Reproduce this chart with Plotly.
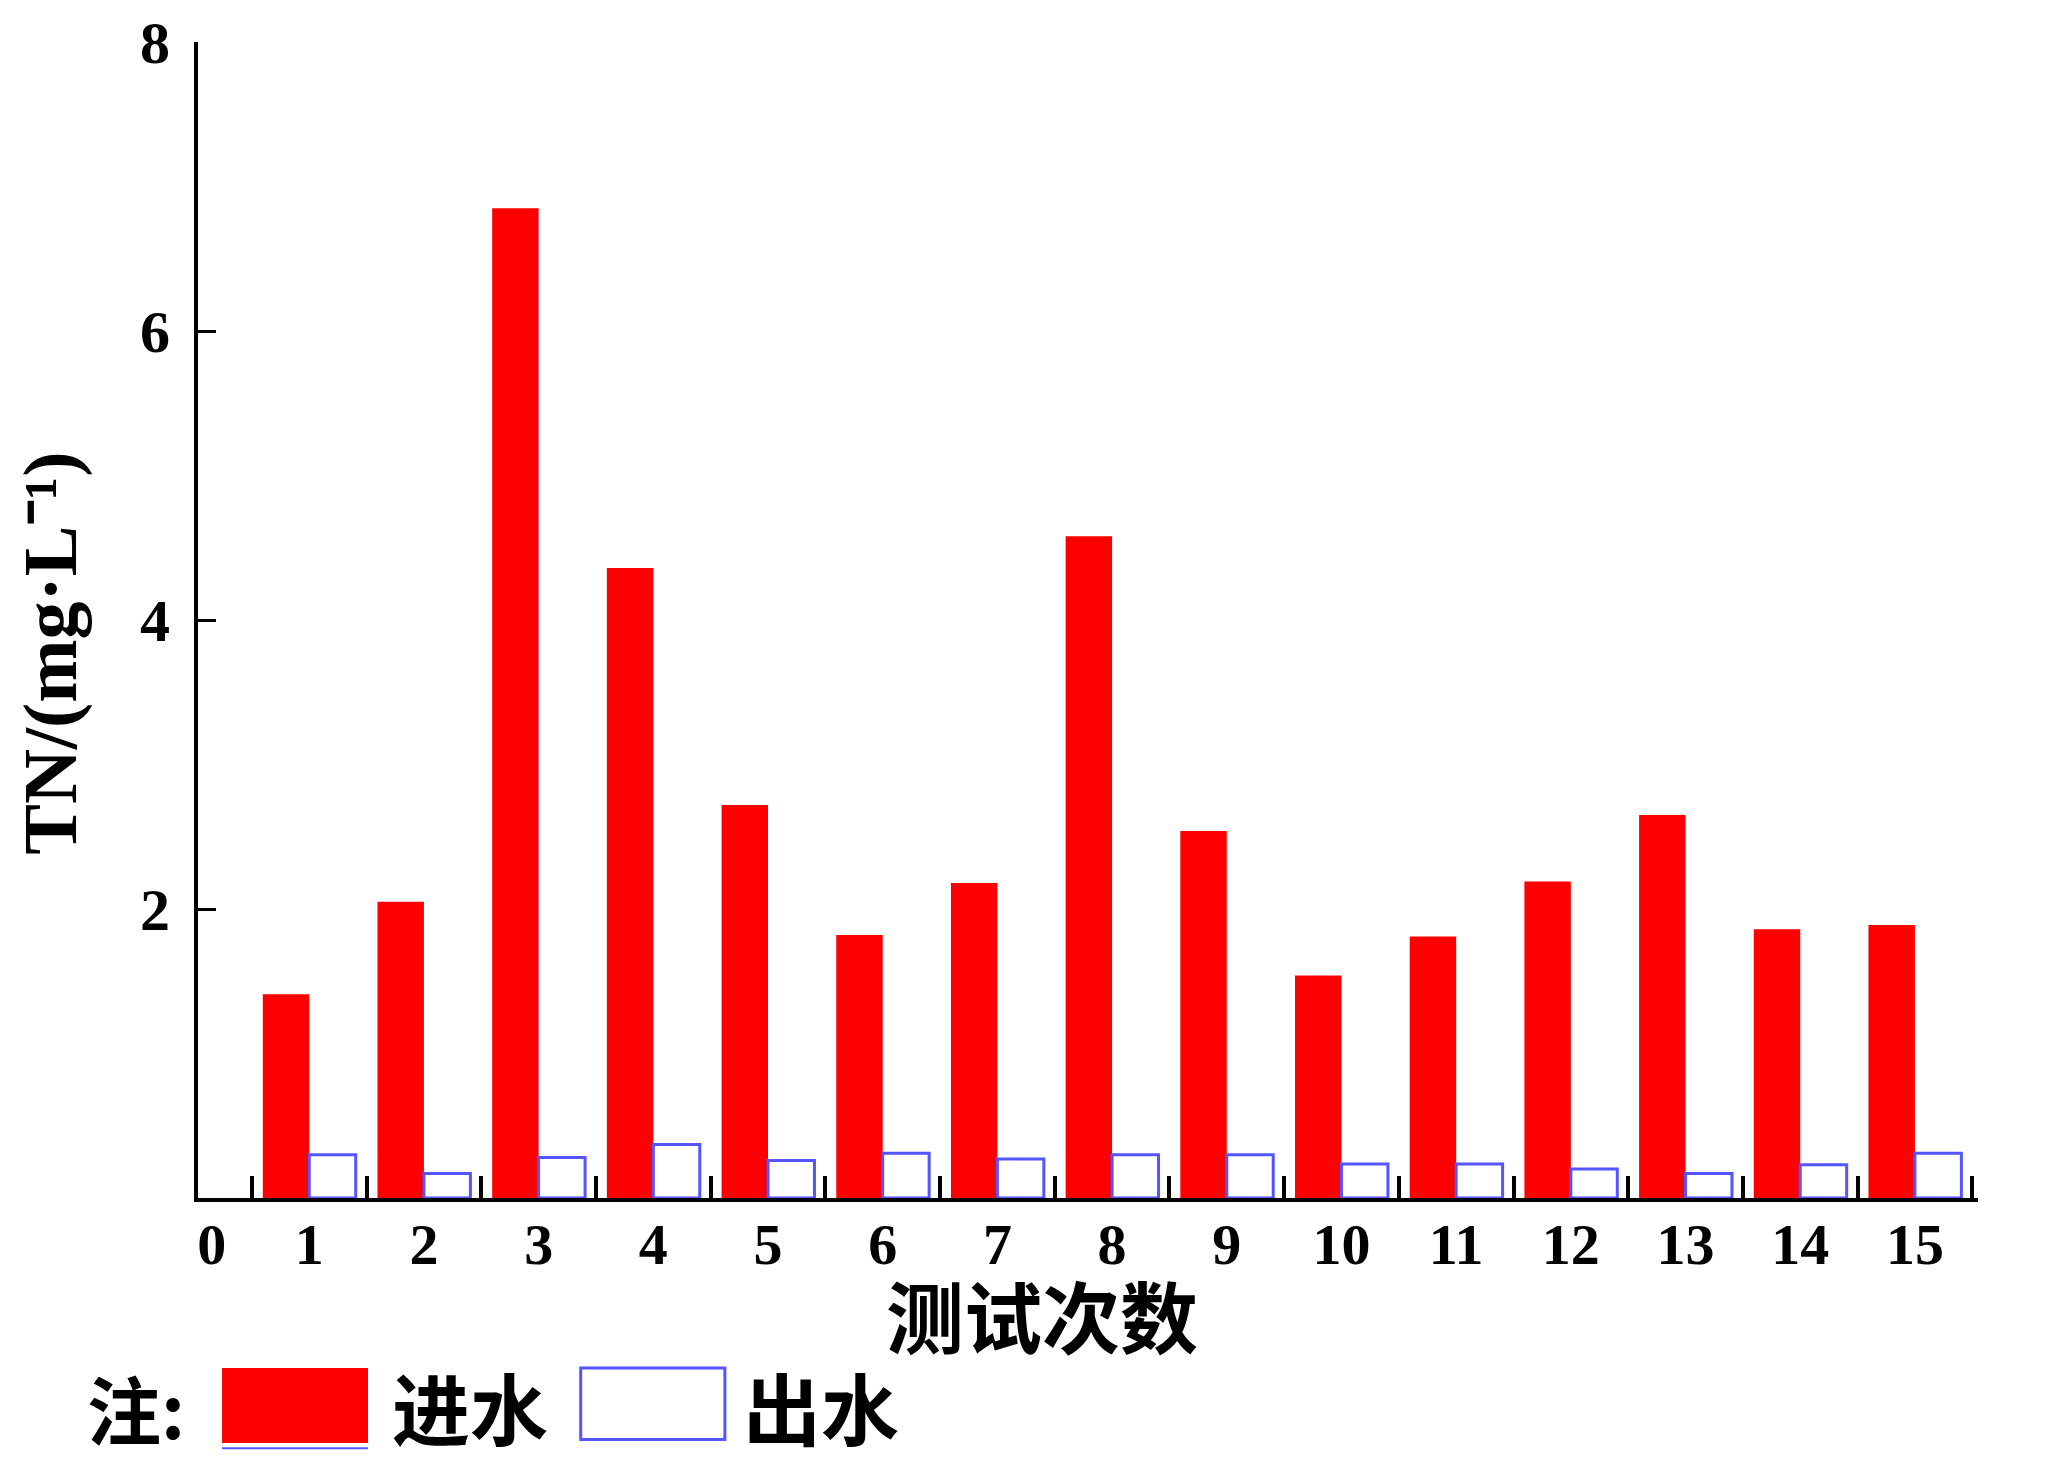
import plotly.graph_objects as go

# 测试次数 1..15
runs = list(range(1, 16))
tick_pos = [0.15] + runs
tick_text = [str(i) for i in range(0, 16)]

# TN (mg/L)
tn_in = [1.41, 2.05, 6.85, 4.36, 2.72, 1.82, 2.18, 4.58, 2.54, 1.54, 1.81, 2.19, 2.65, 1.86, 1.89]
tn_out = [0.30, 0.17, 0.28, 0.37, 0.26, 0.31, 0.27, 0.30, 0.30, 0.235, 0.235, 0.20, 0.17, 0.23, 0.31]

RED = "#ff0000"
BLUE = "#5555ff"
NUM_FONT = "Liberation Serif"
CJK_FONT = "Noto Sans CJK SC"

fig = go.Figure()
fig.add_trace(go.Bar(x=runs, y=tn_in, name="进水", marker=dict(color=RED, line=dict(width=0))))
fig.add_trace(go.Bar(x=runs, y=tn_out, name="出水", marker=dict(color="white", line=dict(color=BLUE, width=3))))

# page body has an 8px margin, so the figure is a bit smaller than the window
fig.update_layout(
    width=2039, height=1468, autosize=False,
    margin=dict(l=190, r=69, t=34, b=278),
    plot_bgcolor="white", paper_bgcolor="white",
    barmode="group", bargap=0.19, bargroupgap=0,
    showlegend=False,
    xaxis=dict(range=[0.03, 15.55], tickvals=tick_pos, ticktext=tick_text, ticks="", automargin=False,
               showline=True, linecolor="black", linewidth=4, showgrid=False, zeroline=False,
               tickfont=dict(family=NUM_FONT, size=58, color="black", weight="bold"), ticklabelstandoff=-8,
               minor=dict(ticks="inside", tick0=0.5, dtick=1, ticklen=22, tickwidth=4, tickcolor="black", showgrid=False)),
    yaxis=dict(range=[0, 8], tickvals=[2, 4, 6, 8], ticks="inside", ticklen=18, tickwidth=3, tickcolor="black",
               showline=True, linecolor="black", linewidth=4, showgrid=False, zeroline=False, automargin=False,
               ticklabeloverflow="allow",
               tickfont=dict(family=NUM_FONT, size=60, color="black", weight="bold"), ticklabelstandoff=12),
)

# axis titles
fig.add_annotation(text="TN/(mg·L⁻¹)", xref="paper", yref="paper", x=-0.083, y=0.471,
                   textangle=-90, showarrow=False, xanchor="center", yanchor="middle",
                   font=dict(family=NUM_FONT, size=76, color="black", weight="bold"))
fig.add_annotation(text="测试次数", xref="paper", yref="paper", x=0.474, y=-0.1,
                   showarrow=False, xanchor="center", yanchor="middle",
                   font=dict(family=CJK_FONT, size=78, color="black", weight="bold"))

# hand-made legend
fig.add_annotation(text="注:", xref="paper", yref="paper", x=-0.0635, y=-0.18, showarrow=False,
                   xanchor="left", yanchor="middle", font=dict(family=CJK_FONT, size=74, color="black", weight="bold"))
fig.add_shape(type="rect", xref="paper", yref="paper", x0=0.0135, x1=0.0955, y0=-0.212, y1=-0.147,
              fillcolor=RED, line=dict(width=0))
fig.add_shape(type="line", xref="paper", yref="paper", x0=0.0135, x1=0.0955, y0=-0.2165, y1=-0.2165,
              line=dict(color=BLUE, width=2))
fig.add_annotation(text="进水", xref="paper", yref="paper", x=0.108, y=-0.18, showarrow=False,
                   xanchor="left", yanchor="middle", font=dict(family=CJK_FONT, size=78, color="black", weight="bold"))
fig.add_shape(type="rect", xref="paper", yref="paper", x0=0.215, x1=0.296, y0=-0.209, y1=-0.147,
              fillcolor="white", line=dict(color=BLUE, width=3))
fig.add_annotation(text="出水", xref="paper", yref="paper", x=0.305, y=-0.18, showarrow=False,
                   xanchor="left", yanchor="middle", font=dict(family=CJK_FONT, size=78, color="black", weight="bold"))

fig.write_html("out.html")
